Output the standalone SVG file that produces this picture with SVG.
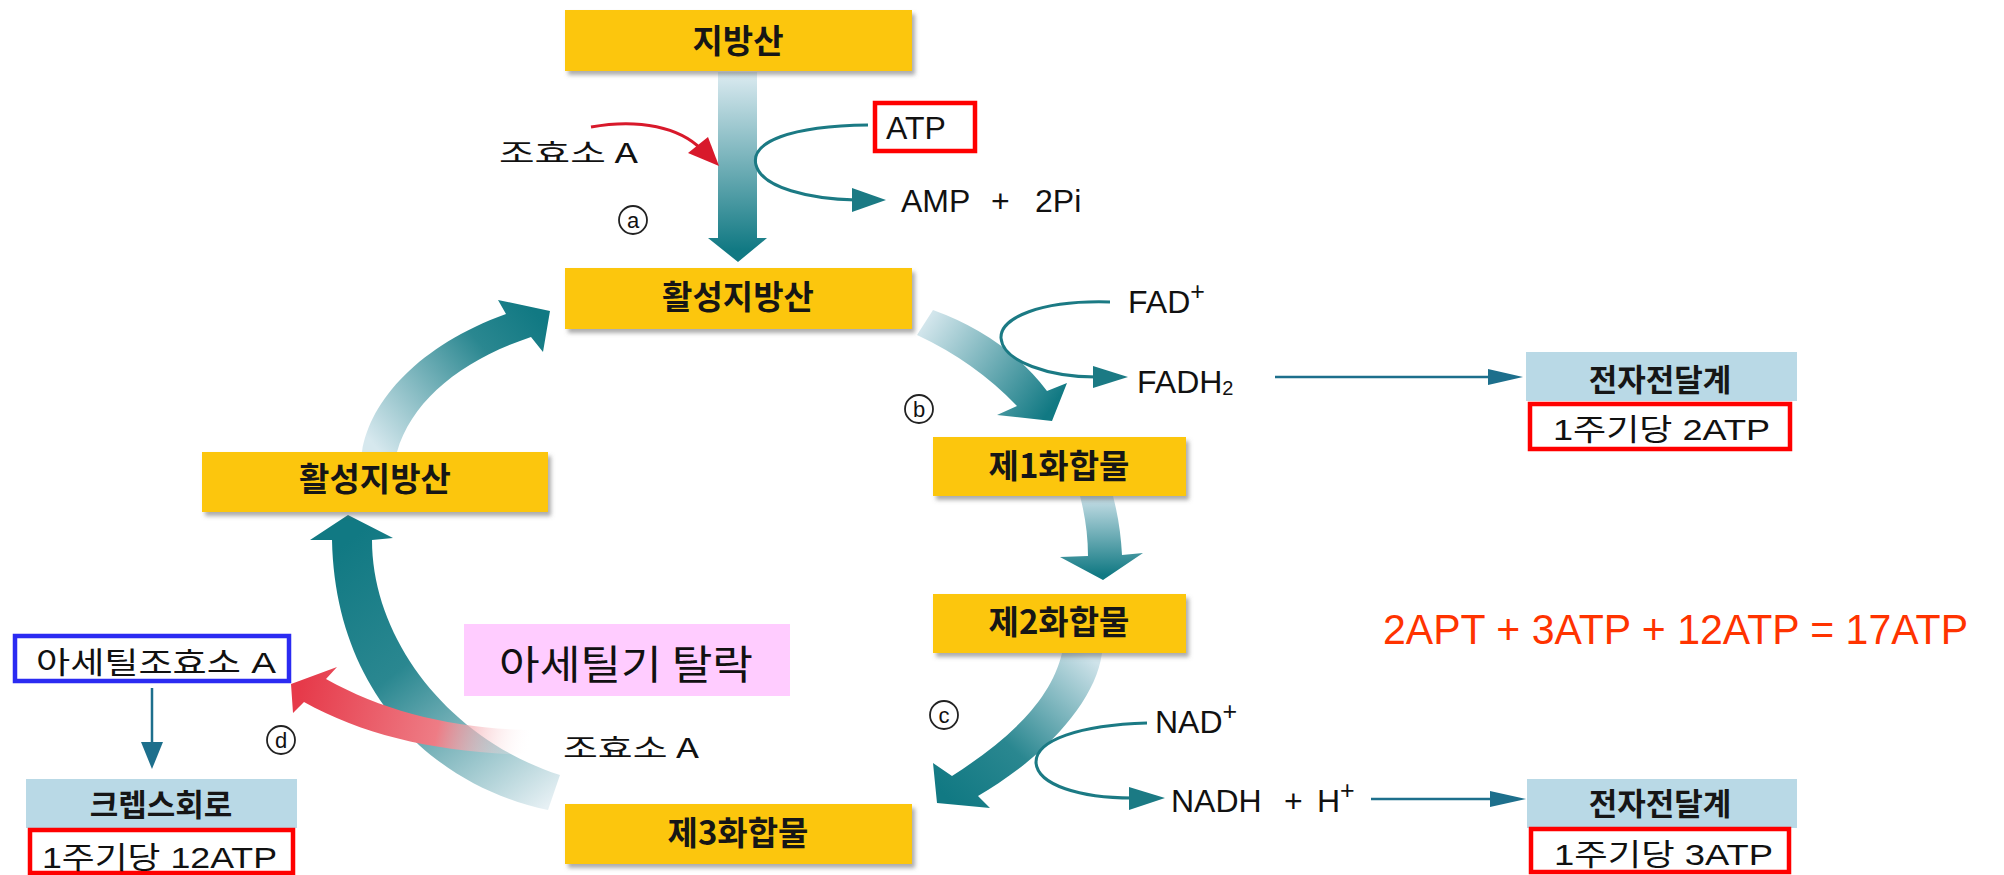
<svg xmlns="http://www.w3.org/2000/svg" width="2004" height="875" viewBox="0 0 2004 875">
  <defs>
    <filter id="shadow" x="-5%" y="-10%" width="115%" height="140%">
      <feDropShadow dx="3" dy="4" stdDeviation="2" flood-color="#666666" flood-opacity="0.55"/>
    </filter>
    <!-- broad pathway arrows: pale at the tail, teal at the head -->
    <linearGradient id="gA" gradientUnits="userSpaceOnUse" x1="0" y1="72" x2="0" y2="250">
      <stop offset="0" stop-color="#dcebf1"/><stop offset="1" stop-color="#117983"/>
    </linearGradient>
    <linearGradient id="gB" gradientUnits="userSpaceOnUse" x1="920" y1="318" x2="1050" y2="410">
      <stop offset="0" stop-color="#dcebf1"/><stop offset="1" stop-color="#117983"/>
    </linearGradient>
    <linearGradient id="g12" gradientUnits="userSpaceOnUse" x1="0" y1="496" x2="0" y2="575">
      <stop offset="0" stop-color="#c9e0e8"/><stop offset="1" stop-color="#117983"/>
    </linearGradient>
    <linearGradient id="gC" gradientUnits="userSpaceOnUse" x1="1085" y1="652" x2="950" y2="800">
      <stop offset="0" stop-color="#cfe3ea"/><stop offset="0.6" stop-color="#2a8790"/><stop offset="1" stop-color="#117983"/>
    </linearGradient>
    <linearGradient id="gUp" gradientUnits="userSpaceOnUse" x1="380" y1="452" x2="540" y2="318">
      <stop offset="0" stop-color="#d6e8ee"/><stop offset="0.7" stop-color="#2a8790"/><stop offset="1" stop-color="#117983"/>
    </linearGradient>
    <linearGradient id="gLow" gradientUnits="userSpaceOnUse" x1="350" y1="540" x2="555" y2="800">
      <stop offset="0" stop-color="#117983"/><stop offset="0.4" stop-color="#2a8790"/><stop offset="1" stop-color="#e6f0f4"/>
    </linearGradient>
    <linearGradient id="gRed" gradientUnits="userSpaceOnUse" x1="300" y1="690" x2="532" y2="742">
      <stop offset="0" stop-color="#e63a4a"/><stop offset="0.6" stop-color="#ee7c85"/><stop offset="1" stop-color="#ffffff" stop-opacity="0"/>
    </linearGradient>
  </defs>
  <style>
    .box{fill:#fcc60f;filter:url(#shadow)}
    .etc{fill:#b9d9e6}
    .redbox{fill:#ffffff;stroke:#ff0000;stroke-width:4.5}
    .blubox{fill:#ffffff;stroke:#2b2bf2;stroke-width:4.5}
    .lbl{font-family:"Noto Sans CJK KR",sans-serif;font-weight:700;font-size:33px;fill:#161616;text-anchor:middle}
    .lbl2{font-family:"Noto Sans CJK KR",sans-serif;font-weight:700;font-size:31px;fill:#161616;text-anchor:middle}
    .thin{font-family:"Liberation Sans","Noto Sans CJK KR",sans-serif;font-size:30px;fill:#111111}
    .kthin{font-family:"Noto Sans CJK KR",sans-serif;font-weight:400;fill:#111111}
    .chem{font-family:"Liberation Sans",Arial,sans-serif;font-size:32px;fill:#111111}
    .sup{font-size:25px}
    .sub{font-size:20px}
    .tl{fill:none;stroke:#1b7a84;stroke-width:3}
    .tlh{fill:#1b7a84}
    .bl{fill:none;stroke:#1d6f8c;stroke-width:2.5}
    .blh{fill:#1d6f8c}
    .circ{fill:#ffffff;stroke:#222222;stroke-width:1.8}
    .cl{font-family:"Liberation Sans",Arial,sans-serif;font-size:22px;fill:#111111;text-anchor:middle}
  </style>

  <rect width="2004" height="875" fill="#ffffff"/>

  <!-- pathway arrows and side reactions -->
  <g id="connectors">
    <!-- 지방산 → 활성지방산 -->
    <path d="M718,72 L757,72 L757,238 L767,238 L738,262 L708,238 L718,238 Z" fill="url(#gA)"/>
    <!-- coenzyme A joining -->
    <path d="M591,127 C640,118 680,128 701,149" fill="none" stroke="#d8192b" stroke-width="3"/>
    <polygon points="688,153 708,137 719,166" fill="#d8192b"/>
    <!-- ATP → AMP + 2Pi -->
    <path class="tl" d="M868,125 C790,126 750,142 756,165 C762,188 810,199 856,200"/>
    <polygon class="tlh" points="852,188 886,200 852,212"/>

    <!-- 활성지방산 → 제1화합물 -->
    <path d="M917,335 L933,310 Q1005,336 1047,391 L1067,383 L1052,421 L997,415 L1017,406 Q975,362 917,335 Z" fill="url(#gB)"/>
    <!-- FAD+ → FADH2 -->
    <path class="tl" d="M1110,302 C1040,300 1000,318 1001,338 C1003,362 1050,377 1096,377"/>
    <polygon class="tlh" points="1093,366 1128,377 1093,388"/>
    <!-- FADH2 → 전자전달계 -->
    <line class="bl" x1="1275" y1="377" x2="1492" y2="377"/>
    <polygon class="blh" points="1488,369 1523,377 1488,385"/>

    <!-- 제1화합물 → 제2화합물 -->
    <path d="M1080,496 L1113,496 C1118,515 1121,535 1122,555 L1143,553 L1103,580 L1060,557 L1088,556 C1088,535 1085,515 1080,496 Z" fill="url(#g12)"/>

    <!-- 제2화합물 → 제3화합물 -->
    <path d="M1062,653 L1102,653 C1095,705 1040,760 978,796 L990,808 L937,803 L933,763 L952,776 C1000,745 1050,705 1062,653 Z" fill="url(#gC)"/>
    <!-- NAD+ → NADH + H+ -->
    <path class="tl" d="M1147,723 C1080,725 1035,740 1036,763 C1038,785 1080,798 1132,798"/>
    <polygon class="tlh" points="1129,787 1165,798 1129,810"/>
    <!-- NADH → 전자전달계 -->
    <line class="bl" x1="1371" y1="799" x2="1494" y2="799"/>
    <polygon class="blh" points="1490,791 1526,799 1490,807"/>

    <!-- 제3화합물 → 활성지방산 (left) -->
    <path d="M310,540 L348,515 L393,538 L372,540 C372,640 450,740 560,775 L548,810 C430,785 335,690 332,540 Z" fill="url(#gLow)"/>
    <!-- 활성지방산 (left) → 활성지방산 (top) -->
    <path d="M362,452 C370,400 420,345 506,314 L498,300 L550,311 L543,352 L531,337 C462,360 412,400 397,452 Z" fill="url(#gUp)"/>

    <!-- acetyl group leaving as acetyl-CoA -->
    <path d="M291,684 L337,667 L326,679 C385,712 455,729 532,730 L532,755 C440,753 365,736 304,702 L293,713 Z" fill="url(#gRed)"/>

    <!-- 아세틸조효소 A → 크렙스회로 -->
    <line class="bl" x1="152" y1="688" x2="152" y2="744"/>
    <polygon class="blh" points="141,742 163,742 152,769"/>
  </g>

  <!-- step markers -->
  <g id="markers">
    <circle class="circ" cx="633" cy="220" r="14"/><text class="cl" x="633" y="228">a</text>
    <circle class="circ" cx="919" cy="409" r="14"/><text class="cl" x="919" y="417">b</text>
    <circle class="circ" cx="944" cy="715" r="14"/><text class="cl" x="944" y="723">c</text>
    <circle class="circ" cx="281" cy="740" r="14"/><text class="cl" x="281" y="748">d</text>
  </g>

  <g id="n-fatty-acid">
    <rect class="box" x="565" y="10" width="347" height="61"/>
    <text class="lbl" x="738" y="53">지방산</text>
  </g>
  <g id="n-activated-top">
    <rect class="box" x="565" y="268" width="347" height="61"/>
    <text class="lbl" x="738" y="309">활성지방산</text>
  </g>
  <g id="n-activated-left">
    <rect class="box" x="202" y="452" width="346" height="60"/>
    <text class="lbl" x="375" y="491">활성지방산</text>
  </g>
  <g id="n-compound1">
    <rect class="box" x="933" y="437" width="253" height="59"/>
    <text class="lbl" x="1059" y="478">제1화합물</text>
  </g>
  <g id="n-compound2">
    <rect class="box" x="933" y="594" width="253" height="59"/>
    <text class="lbl" x="1059" y="634">제2화합물</text>
  </g>
  <g id="n-compound3">
    <rect class="box" x="565" y="804" width="347" height="60"/>
    <text class="lbl" x="738" y="845">제3화합물</text>
  </g>

  <g id="n-coa-top">
    <text class="kthin" x="499" y="163" font-size="27" textLength="139" lengthAdjust="spacingAndGlyphs">조효소 A</text>
  </g>
  <g id="n-atp">
    <rect x="875" y="103" width="100" height="48" fill="#ffffff" stroke="#ff0000" stroke-width="4.5"/>
    <text class="chem" x="886" y="139" font-size="33">ATP</text>
  </g>
  <g id="n-amp">
    <text class="chem" x="901" y="212">AMP</text>
    <text class="chem" x="991" y="212">+</text>
    <text class="chem" x="1035" y="212">2Pi</text>
  </g>
  <g id="n-fad">
    <text class="chem" x="1128" y="313">FAD<tspan class="sup" dy="-13">+</tspan></text>
  </g>
  <g id="n-fadh2">
    <text class="chem" x="1137" y="393">FADH<tspan class="sub" dy="2">2</tspan></text>
  </g>
  <g id="n-etc-top">
    <rect class="etc" x="1526" y="352" width="271" height="49"/>
    <text class="lbl2" x="1660" y="391">전자전달계</text>
    <rect class="redbox" x="1530" y="404" width="260" height="45"/>
    <text class="thin" x="1553" y="440" textLength="217" lengthAdjust="spacingAndGlyphs">1주기당 2ATP</text>
  </g>

  <g id="n-total">
    <text x="1383" y="644" font-family="Liberation Sans,Arial,sans-serif" font-size="43" fill="#ff3300" textLength="585" lengthAdjust="spacingAndGlyphs">2APT + 3ATP + 12ATP = 17ATP</text>
  </g>

  <g id="n-nad">
    <text class="chem" x="1155" y="733" font-size="30">NAD<tspan class="sup" dy="-13">+</tspan></text>
  </g>
  <g id="n-nadh">
    <text class="chem" x="1171" y="812" font-size="30">NADH</text>
    <text class="chem" x="1284" y="812" font-size="30">+</text>
    <text class="chem" x="1317" y="812" font-size="30">H<tspan class="sup" dy="-13">+</tspan></text>
  </g>
  <g id="n-etc-bottom">
    <rect class="etc" x="1527" y="779" width="270" height="49"/>
    <text class="lbl2" x="1660" y="815">전자전달계</text>
    <rect class="redbox" x="1531" y="829" width="258" height="43"/>
    <text class="thin" x="1554" y="865" textLength="219" lengthAdjust="spacingAndGlyphs">1주기당 3ATP</text>
  </g>

  <g id="n-acetyl-leave">
    <rect x="464" y="624" width="326" height="72" fill="#ffccff"/>
    <text class="kthin" x="499" y="679" font-size="40" textLength="254" lengthAdjust="spacingAndGlyphs">아세틸기 탈락</text>
  </g>
  <g id="n-coa-bottom">
    <text class="kthin" x="563" y="758" font-size="27" textLength="136" lengthAdjust="spacingAndGlyphs">조효소 A</text>
  </g>
  <g id="n-acetyl-coa">
    <rect class="blubox" x="15" y="636" width="274" height="45"/>
    <text class="thin" x="36" y="673" textLength="240" lengthAdjust="spacingAndGlyphs">아세틸조효소  A</text>
  </g>
  <g id="n-krebs">
    <rect class="etc" x="26" y="779" width="271" height="49"/>
    <text class="lbl2" x="161" y="816">크렙스회로</text>
    <rect class="redbox" x="30" y="830" width="263" height="43"/>
    <text class="thin" x="42" y="868" textLength="235" lengthAdjust="spacingAndGlyphs">1주기당 12ATP</text>
  </g>
</svg>
